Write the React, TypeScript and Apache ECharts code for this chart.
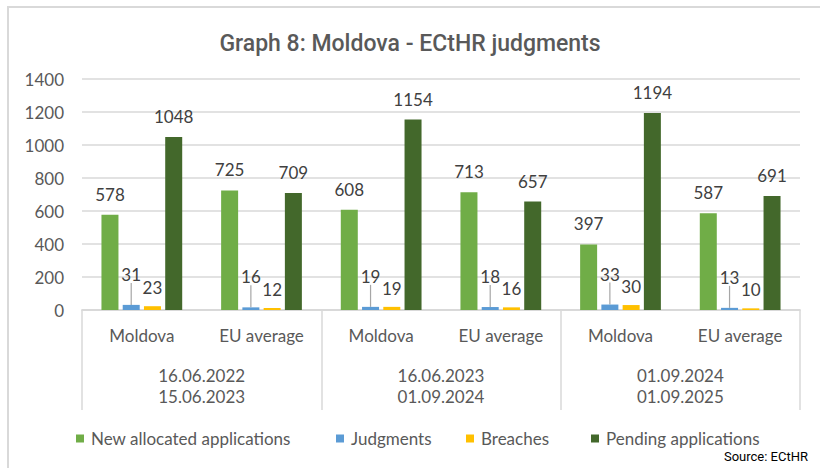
import React, { useEffect, useRef } from "react";
import * as echarts from "echarts";

const categories = ["Moldova", "EU average", "Moldova", "EU average", "Moldova", "EU average"];
const periods = ["16.06.2022\n15.06.2023", "16.06.2023\n01.09.2024", "01.09.2024\n01.09.2025"];
const newAllocated = [578, 725, 608, 713, 397, 587];
const judgments = [31, 16, 19, 18, 33, 13];
const breaches = [23, 12, 19, 16, 30, 10];
const pending = [1048, 709, 1154, 657, 1194, 691];
const seriesNames = ["New allocated applications", "Judgments", "Breaches", "Pending applications"];
const colors = ["#70ad47", "#5b9bd5", "#ffc000", "#43682b"];

const FONT = "Lato, 'Open Sans', sans-serif";
const TXT = "#595959";

export default function App() {
  const ref = useRef<HTMLDivElement>(null);
  useEffect(() => {
    if (!ref.current) return;
    const chart = echarts.init(ref.current, null, { renderer: "svg" });
    const labelBase = {
      show: true,
      position: "top",
      distance: 12,
      color: "#404040",
      fontSize: 17,
      fontFamily: FONT,
    };
    const legendLefts = [76, 336, 466, 591];
    chart.setOption({
      animation: false,
      backgroundColor: "#ffffff",
      title: {
        text: "Graph 8: Moldova - ECtHR judgments",
        left: "center",
        top: 27,
        textStyle: { color: TXT, fontSize: 23, fontWeight: 500, fontFamily: "Roboto, sans-serif" },
      },
      legend: seriesNames.map((n, i) => ({
        data: [n],
        left: legendLefts[i],
        top: 430,
        padding: 0,
        itemWidth: 8,
        itemHeight: 8,
        icon: "rect",
        textStyle: { color: TXT, fontSize: 17, fontFamily: FONT, padding: [0, 0, 0, 2] },
      })),
      grid: { left: 82, right: 20, top: 79, bottom: 158, containLabel: false },
      xAxis: [
        {
          type: "category",
          data: categories,
          position: "bottom",
          axisLine: { show: true, lineStyle: { color: "#d9d9d9", width: 1.5 } },
          axisTick: { show: false },
          axisLabel: { color: TXT, fontSize: 17, fontFamily: FONT, margin: 17, interval: 0 },
        },
        {
          type: "category",
          data: periods,
          position: "bottom",
          axisLine: { show: true, lineStyle: { color: "#d9d9d9", width: 1.5 } },
          axisTick: { show: true, length: 100, interval: 0, lineStyle: { color: "#d9d9d9", width: 1.5 } },
          axisLabel: { color: TXT, fontSize: 17, lineHeight: 21, fontFamily: FONT, margin: 55, interval: 0 },
        },
      ],
      yAxis: {
        type: "value",
        min: 0,
        max: 1400,
        interval: 200,
        axisLine: { show: false },
        axisTick: { show: false },
        splitLine: { lineStyle: { color: "#d9d9d9", width: 1.5 } },
        axisLabel: {
          color: TXT,
          fontSize: 17,
          fontFamily: FONT,
          margin: 18,
          formatter: (v: number) => String(v),
        },
      },
      graphic: [
        {
          type: "polyline",
          shape: { points: [[8, 480], [8, 7], [830, 7]] },
          style: { stroke: "#d9d9d9", lineWidth: 2, fill: "none" },
        },
        {
          type: "text",
          right: 12,
          top: 450,
          style: { text: "Source: ECtHR", fill: "#000", fontSize: 13, fontFamily: "Roboto, sans-serif" },
        },
      ],
      series: [
        {
          name: seriesNames[0],
          type: "bar",
          xAxisIndex: 0,
          data: newAllocated,
          itemStyle: { color: colors[0] },
          barWidth: 17,
          barGap: "25%",
          label: labelBase,
        },
        {
          name: seriesNames[1],
          type: "bar",
          xAxisIndex: 0,
          data: judgments,
          itemStyle: { color: colors[1] },
          barWidth: 17,
          barGap: "25%",
          label: { ...labelBase, distance: 12 },
          labelLayout: { dy: -10 },
          labelLine: { show: true, lineStyle: { color: "#a6a6a6", width: 1.2 } },
        },
        {
          name: seriesNames[2],
          type: "bar",
          xAxisIndex: 0,
          data: breaches,
          itemStyle: { color: colors[2] },
          barWidth: 17,
          barGap: "25%",
          label: { ...labelBase, distance: 10 },
        },
        {
          name: seriesNames[3],
          type: "bar",
          xAxisIndex: 0,
          data: pending,
          itemStyle: { color: colors[3] },
          barWidth: 17,
          barGap: "25%",
          label: labelBase,
        },
      ],
    });
    return () => chart.dispose();
  }, []);
  return <div ref={ref} style={{ width: 820, height: 468, position: "absolute", left: 0, top: 0 }} />;
}
